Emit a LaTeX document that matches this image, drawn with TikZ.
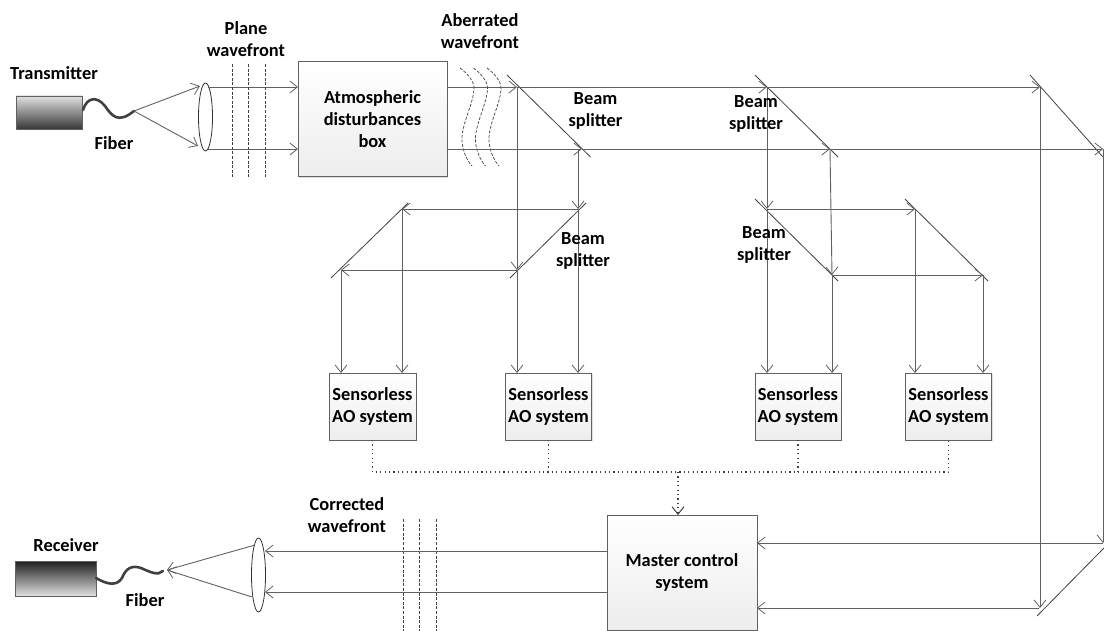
\documentclass[tikz,border=0pt]{standalone}
\usepackage{fontspec}
\setmainfont{Carlito}
\usetikzlibrary{arrows.meta,shapes.geometric,shadows,calc}
\definecolor{ln}{gray}{0.38}
\tikzset{
  every node/.style={inner sep=0pt,outer sep=0pt},
  lbl/.style={font=\fontsize{18.4}{22}\selectfont\bfseries,align=center,text=black},
  box/.style={draw=ln,line width=.9pt,top color=white,bottom color=black!7,rectangle,
     drop shadow={shadow xshift=1.4pt,shadow yshift=-1.4pt,opacity=.25},
     font=\fontsize{18.4}{22}\selectfont\bfseries,align=center,text=black},
  lens/.style={draw=black!80,line width=.8pt,ellipse},
  beam/.style={draw=ln,line width=.9pt,-{Straight Barb[length=7.5pt,width=12pt,line width=.8pt]}},
  plain/.style={draw=ln,line width=.9pt},
  split/.style={draw=black!75,line width=.8pt},
  wave/.style={draw=black!75,line width=.7pt,dash pattern=on 3pt off 1.6pt},
  dots/.style={draw=black!75,line width=1.4pt,dash pattern=on 1.2pt off 3.2pt},
  fib/.style={draw=black!75,line width=2.6pt,line cap=round},
}
\begin{document}
\begin{tikzpicture}[x=1pt,y=-1pt]
\useasboundingbox (0,0) rectangle (1104,631);
% boxes
\node[rectangle,draw=ln,line width=.9pt,top color=black!12,bottom color=black!78,minimum width=66pt,minimum height=33pt,
  drop shadow={shadow xshift=1pt,shadow yshift=-1pt,opacity=.2}] (tx) at (49,112.5) {};
\node[rectangle,draw=ln,line width=.9pt,top color=black!88,bottom color=black!12,minimum width=81pt,minimum height=35pt,
  drop shadow={shadow xshift=1pt,shadow yshift=-1pt,opacity=.2}] (rx) at (55.5,578.5) {};
\node[box,minimum width=149pt,minimum height=115pt] (atm) at (372.5,119) {Atmospheric\\disturbances\\box};
\node[box,minimum width=87pt,minimum height=67pt] (s1) at (372.5,406.5) {Sensorless\\AO system};
\node[box,minimum width=86pt,minimum height=67pt] (s2) at (548.5,406.5) {Sensorless\\AO system};
\node[box,minimum width=86pt,minimum height=67pt] (s3) at (798,406.5) {Sensorless\\AO system};
\node[box,minimum width=86pt,minimum height=67pt] (s4) at (948.5,406.5) {Sensorless\\AO system};
\node[box,minimum width=150pt,minimum height=115pt] (mc) at (682,572.5) {Master control\\system};
% lenses
\node[lens,minimum width=14pt,minimum height=68pt] (l1) at (205.5,117) {};
\node[lens,minimum width=14pt,minimum height=74pt] (l2) at (258.5,575) {};
% fibers
\coordinate (fa) at (134,111);
\coordinate (fb) at (167,570);
\draw[fib] (83,110) .. controls (87,97) and (97,96) .. (105,106) .. controls (112,116) and (118,124) .. (fa);
\draw[fib] (rx.east |- 0,578) .. controls (108,585) and (117,586) .. (122,578)
   .. controls (126,568) and (132,565) .. (141,568) .. controls (150,572) and (158,576) .. (163,571);
% fibre to lens
\coordinate (lu) at (200,86); \coordinate (ld) at (198,146);
\draw[beam] (fa) -- (lu);
\draw[beam] (fa) -- (ld);
\draw[plain,-{Straight Barb[length=7.5pt,width=12pt,line width=.8pt]}] (255,545) -- (fb);
\draw[plain,-{Straight Barb[length=7.5pt,width=12pt,line width=.8pt]}] (252,597) -- (fb);
% plane wavefront
\draw[beam] (208,87) -- (atm.west |- 0,87);
\draw[beam] (208,149) -- (atm.west |- 0,149);
\foreach \x in {232,248,265} \draw[wave] (\x,64) -- (\x,177);
\foreach \x in {403,419,436} \draw[wave] (\x,519) -- (\x,631);
% aberrated wavefront
\foreach \d in {0,13.5,27}
  \draw[wave] (460+\d,68) .. controls (468+\d,74) and (475+\d,82) .. (474+\d,90)
     .. controls (472+\d,108) and (461+\d,125) .. (462+\d,142) .. controls (463+\d,152) and (467+\d,160) .. (472+\d,166);
% splitters
\coordinate (a1) at (517,87); \coordinate (a2) at (582,149);
\coordinate (b1) at (767,87); \coordinate (b2) at (830,149);
\coordinate (c1) at (1040,87); \coordinate (c2) at (1103,149);
\coordinate (d1) at (767,209); \coordinate (d2) at (832,275);
\coordinate (e1) at (915,209); \coordinate (e2) at (983,275);
\coordinate (f1) at (578,209); \coordinate (f2) at (517,270);
\coordinate (g1) at (402,209); \coordinate (g2) at (341,270);
\coordinate (h1) at (1103,543); \coordinate (h2) at (1039,608);
\draw[split] (507,75) -- (590.5,157);
\draw[split] (755,75) -- (838,157);
\draw[split] (1030,75) -- (1103,157);
\draw[split] (755,199) -- (838,281);
\draw[split] (905,199) -- (988,281);
\draw[split] (586,203) -- (510,278);
\draw[split] (408,203) -- (331,278);
\draw[split] (1104,548) -- (1037,616);
% horizontal beams
\draw[beam] (atm.east |- a1) -- (a1);
\draw[beam] (atm.east |- a2) -- (a2);
\draw[beam] (a1) -- (b1);
\draw[beam] (a2) -- (b2);
\draw[beam] (b1) -- (c1);
\draw[beam] (b2) -- (c2);
\draw[beam] (d1) -- (e1);
\draw[beam] (d2) -- (e2);
\draw[beam] (f1) -- (g1);
\draw[beam] (f2) -- (g2);
% vertical beams
\draw[beam] (a1) -- (f2);
\draw[beam] (f2) -- (f2 |- s2.north);
\draw[beam] (a2 -| f1) -- (f1);
\draw[beam] (f1) -- (f1 |- s2.north);
\draw[beam] (g1) -- (g1 |- s1.north);
\draw[beam] (g2) -- (g2 |- s1.north);
\draw[beam] (b1) -- (d1);
\draw[beam] (d1) -- (d1 |- s3.north);
\draw[beam] (b2) -- (d2);
\draw[beam] (d2) -- (d2 |- s3.north);
\draw[beam] (e1) -- (e1 |- s4.north);
\draw[beam] (e2) -- (e2 |- s4.north);
\draw[beam] (c1) -- (h2 -| c1);
\draw[beam] (c2) -- (h1);
% to master
\draw[beam] (h1) -- (mc.east |- h1);
\draw[beam] (h2) -- (mc.east |- h2);
\draw[beam] (mc.west |- 0,551) -- (265,551);
\draw[beam] (mc.west |- 0,592) -- (265,592);
% dotted control
\coordinate (bus) at (678,472);
\draw[dots] (s1.south) -- (s1.south |- bus) -- (s4.south |- bus) -- (s4.south);
\draw[dots] (s2.south) -- (s2.south |- bus);
\draw[dots] (s3.south) -- (s3.south |- bus);
\draw[dots,-{Straight Barb[length=7.5pt,width=12pt,line width=1pt]}] (bus) -- (bus |- mc.north);
% labels
\node[lbl] (t1) at (54,73) {Transmitter};
\node[lbl] (t2) at (114,143) {Fiber};
\node[lbl] (t3) at (246,39) {Plane\\wavefront};
\node[lbl] (t4) at (480,31) {Aberrated\\wavefront};
\node[lbl] (t5) at (595.5,111) {Beam\\splitter};
\node[lbl] (t6) at (756,114) {Beam\\splitter};
\node[lbl] (t7) at (583,251) {Beam\\splitter};
\node[lbl] (t8) at (764,245) {Beam\\splitter};
\node[lbl] (t9) at (66,545) {Receiver};
\node[lbl] (t10) at (145,600) {Fiber};
\node[lbl] (t11) at (347,515) {Corrected\\wavefront};
\end{tikzpicture}
\end{document}
